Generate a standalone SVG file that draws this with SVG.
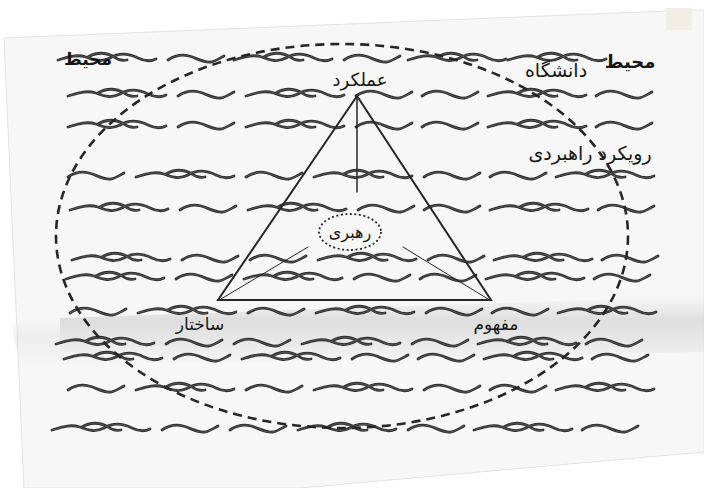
<svg xmlns="http://www.w3.org/2000/svg" width="704" height="488" viewBox="0 0 704 488">
<style>
.ink{fill:none;stroke:#2f2f2f;stroke-width:2.8;stroke-linecap:round;stroke-linejoin:round}
.hi{fill:none;stroke:#8a8a8a;stroke-width:0.5;stroke-linecap:round;stroke-opacity:0.8}
.lbl{font-family:"DejaVu Sans",sans-serif;fill:#161616;text-anchor:middle}
.edge{fill:none;stroke:#262626;stroke-linecap:round}
</style>
<defs>
<path id="w1" d="M0,2 C6,-2 13,-4 21,-2 C29,0 35,5 43,4 C48,3 52,0 56,-2"/>
<g id="w2"><path d="M0,2 C10,-1 18,-4 28,-1 C38,3 44,4 52,0 C60,-5 70,-5 80,0 C86,3 92,4 98,1"/><path d="M30,-1 C38,-6 48,-6 56,-1 C60,2 64,3 69,2"/></g>
<g id="rowA"><use href="#w2" x="0"/><use href="#w1" x="110"/><use href="#w2" x="178"/><use href="#w1" x="288"/><use href="#w1" x="354"/><use href="#w2" x="420"/><use href="#w1" x="528"/></g>
<g id="rowB"><use href="#w1" x="0"/><use href="#w2" x="68"/><use href="#w1" x="178"/><use href="#w2" x="246"/><use href="#w1" x="356"/><use href="#w1" x="422"/><use href="#w2" x="488"/></g>
<g id="rowC"><use href="#w2" x="0"/><use href="#w1" x="110"/><use href="#w1" x="178"/><use href="#w2" x="246"/><use href="#w1" x="356"/><use href="#w2" x="422"/><use href="#w1" x="530"/></g>
<g id="field">
<use href="#w2" x="58" y="58"/><use href="#w1" x="168" y="58"/><use href="#w2" x="234" y="58"/><use href="#w1" x="344" y="58"/><use href="#w2" x="408" y="58"/><use href="#w2" x="508" y="58"/>
<use href="#rowA" x="68" y="94"/>
<use href="#rowA" x="68" y="125"/>
<use href="#rowB" x="68" y="175"/>
<use href="#rowA" x="70" y="208"/>
<use href="#rowC" x="72" y="258"/>
<use href="#rowA" x="66" y="277"/>
<use href="#rowB" x="70" y="311"/>
<use href="#rowC" x="56" y="342"/>
<use href="#rowA" x="64" y="357"/>
<use href="#rowB" x="68" y="388"/>
<use href="#rowC" x="52" y="428"/>
</g>
<linearGradient id="fold" x1="0" y1="0" x2="0" y2="1">
<stop offset="0" stop-color="#d8d8d8" stop-opacity="0"/>
<stop offset="0.35" stop-color="#d4d4d4" stop-opacity="0.75"/>
<stop offset="0.7" stop-color="#dcdcdc" stop-opacity="0.5"/>
<stop offset="1" stop-color="#e8e8e8" stop-opacity="0"/>
</linearGradient>
</defs>
<rect width="704" height="488" fill="#ffffff"/>
<g id="page">
<polygon points="4,38 692,10 704,10 704,452 300,488 24,488" fill="#f7f7f7" stroke="#e2e2e2" stroke-width="1"/>
<rect x="666" y="8" width="26" height="22" fill="#f3eee3"/>
<polygon points="60,318 704,296 704,352 60,366" fill="url(#fold)"/>
<polygon points="10,320 60,318 60,366 20,368" fill="url(#fold)" opacity="0.4"/>
</g>
<g id="waves">
<use href="#field" class="ink"/>
<use href="#field" class="hi"/>
</g>
<g id="connectors">
<ellipse id="boundary" cx="342" cy="236" rx="286" ry="192" fill="none" stroke="#262626" stroke-width="2.6" stroke-dasharray="9 6"/>
<polygon points="357,96 218,300 491,300" class="edge" stroke-width="2"/>
<line x1="357" y1="96" x2="357" y2="192" class="edge" stroke-width="1.5"/>
<line x1="221" y1="299" x2="308" y2="247" class="edge" stroke-width="1" stroke="#555"/>
<line x1="403" y1="247" x2="488" y2="299" class="edge" stroke-width="1" stroke="#555"/>
</g>
<g id="node-mohit-left"><text class="lbl" x="88" y="65" font-size="17" font-weight="bold">محیط</text></g>
<g id="node-mohit-right"><text class="lbl" x="630" y="68" font-size="18" font-weight="bold">محیط</text></g>
<g id="node-daneshgah"><text class="lbl" x="556" y="77" font-size="19">دانشگاه</text></g>
<g id="node-amalkard"><text class="lbl" x="360" y="86" font-size="18">عملکرد</text></g>
<g id="node-rooykard"><text class="lbl" x="590" y="160" font-size="19">رویکرد راهبردی</text></g>
<g id="node-rahbari">
<ellipse cx="350" cy="232" rx="31" ry="18" fill="none" stroke="#262626" stroke-width="1.8" stroke-dasharray="2 2.5"/>
<text class="lbl" x="350" y="238" font-size="16">رهبری</text>
</g>
<g id="node-sakhtar"><text class="lbl" x="200" y="330" font-size="17">ساختار</text></g>
<g id="node-mafhoom"><text class="lbl" x="496" y="330" font-size="17">مفهوم</text></g>
</svg>
